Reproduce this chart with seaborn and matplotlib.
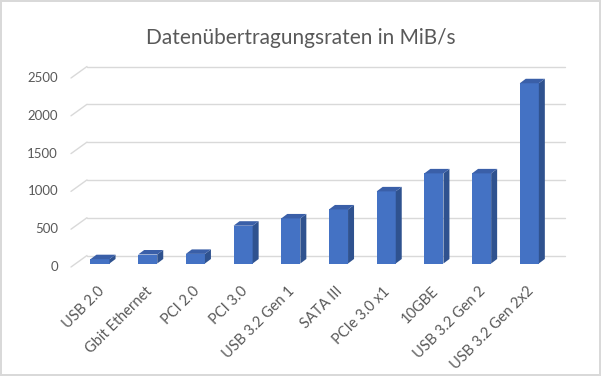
import matplotlib
matplotlib.use("Agg")
import matplotlib.pyplot as plt
from matplotlib.patches import Polygon
from matplotlib.transforms import ScaledTranslation
import seaborn as sns
import pandas as pd

# data
interfaces = ["USB 2.0", "Gbit Ethernet", "PCI 2.0", "PCI 3.0", "USB 3.2 Gen 1",
              "SATA III", "PCIe 3.0 x1", "10GBE", "USB 3.2 Gen 2", "USB 3.2 Gen 2x2"]
rates = [57, 119, 127, 500, 596, 715, 954, 1192, 1192, 2384]
y_ticks = [0, 500, 1000, 1500, 2000, 2500]
title = "Datenübertragungsraten in MiB/s"

df = pd.DataFrame({"Schnittstelle": interfaces, "MiB/s": rates})

sns.set_style("white")
plt.rcParams["font.family"] = ["Lato", "DejaVu Sans"]

W, H = 601, 376
fig = plt.figure(figsize=(W / 100, H / 100), dpi=100)
fig.patch.set_edgecolor("#D9D9D9")
fig.patch.set_linewidth(1.5)

# axes placed so that the data plane is the front face of the bars
ax = fig.add_axes([76.15 / W, (H - 263.5) / H, 477 / W, 189 / H])

sns.barplot(data=df, x="Schnittstelle", y="MiB/s", color="#4472C4",
            saturation=1, width=0.4, ax=ax, zorder=3)
ax.set_xlim(-0.5, len(interfaces) - 0.5)
ax.set_ylim(0, 2500)
for s in ax.spines.values():
    s.set_visible(False)
ax.set_xlabel("")
ax.set_ylabel("")
ax.set_yticks([])

# pixel -> data helpers
px_x = 477 / len(interfaces)          # px per category
px_y = 189 / 2500                     # px per unit
def dxp(p):
    return p / px_x
def dyp(p):
    return p / px_y

# back wall gridlines + floor diagonals
x0 = dxp(87 - 76.15) - 0.5
x1 = dxp(565 - 76.15) - 0.5
xf = dxp(71 - 76.15) - 0.5
for v in y_ticks:
    yb = v + dyp(8)
    ax.plot([x0, x1], [yb, yb], color="#D9D9D9", lw=1.0, zorder=1, clip_on=False)
    ax.plot([xf, x0], [v - dyp(3.5), yb], color="#D9D9D9", lw=1.0, zorder=1, clip_on=False)
    ax.text(xf - dxp(13), v - dyp(3.5), str(v), ha="right", va="center",
            fontsize=9.5, color="#595959")

# 3d sides and tops of the columns
ddx, ddy = dxp(6), dyp(4.5)
for p in ax.patches[:]:
    bx, by = p.get_x(), p.get_y()
    bw, bh = p.get_width(), p.get_height()
    p.set_edgecolor("none")
    side = Polygon([(bx + bw, by), (bx + bw + ddx, by + ddy),
                    (bx + bw + ddx, by + bh + ddy), (bx + bw, by + bh)],
                   closed=True, facecolor="#2F528F", edgecolor="none", zorder=3)
    top = Polygon([(bx, by + bh), (bx + bw, by + bh),
                   (bx + bw + ddx, by + bh + ddy), (bx + ddx, by + bh + ddy)],
                  closed=True, facecolor="#3A5FA8", edgecolor="none", zorder=3)
    ax.add_patch(side)
    ax.add_patch(top)

ax.tick_params(axis="x", length=0, pad=15, labelsize=10.5, labelcolor="#595959")
ax.set_xticks(range(len(interfaces)))
ax.set_xticklabels(interfaces, rotation=45, ha="right", rotation_mode="anchor")
shift = ScaledTranslation(-0.03, 0, fig.dpi_scale_trans)
for lab in ax.get_xticklabels():
    lab.set_transform(lab.get_transform() + shift)

fig.text(0.5, 1 - 38 / H, title, ha="center", va="center", fontsize=15, color="#595959")

fig.savefig("out.png", dpi=100)
